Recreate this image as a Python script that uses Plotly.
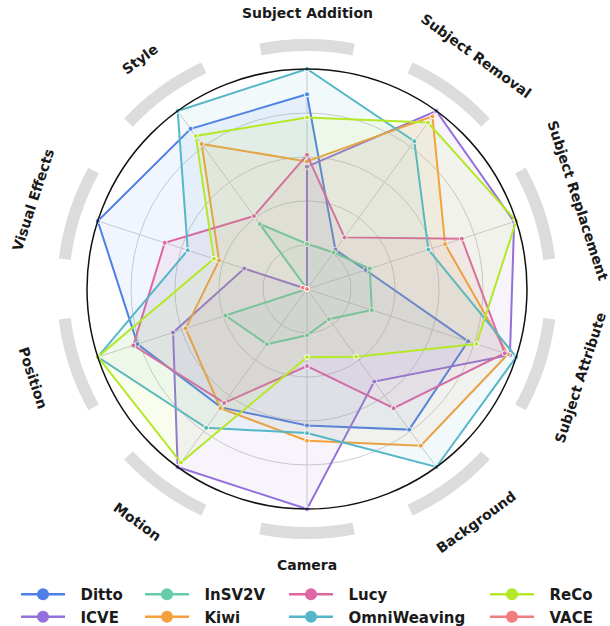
import numpy as np
import plotly.graph_objects as go

categories = ["Subject Addition", "Subject Removal", "Subject Replacement", "Subject Attribute",
              "Background", "Camera", "Motion", "Position", "Visual Effects", "Style"]

ditto       = [0.885, 0.22, 0.28, 0.77, 0.79, 0.62, 0.665, 0.81, 1.00, 0.90]
icve        = [0.556, 1.00, 0.99, 0.97, 0.52, 1.00, 1.00, 0.64, 0.30, 0.00]
insv2v      = [0.205, 0.205, 0.30, 0.31, 0.17, 0.21, 0.31, 0.39, 0.00, 0.365]
kiwi        = [0.58, 0.97, 0.66, 0.96, 0.88, 0.69, 0.67, 0.58, 0.42, 0.815]
lucy        = [0.61, 0.29, 0.74, 0.945, 0.67, 0.35, 0.64, 0.83, 0.68, 0.41]
omniweaving = [1.00, 0.83, 0.58, 1.00, 1.00, 0.655, 0.78, 1.00, 0.57, 1.00]
reco        = [0.78, 0.935, 1.00, 0.81, 0.38, 0.31, 0.975, 1.00, 0.445, 0.86]
vace        = [0.00, 0.00, 0.00, 0.00, 0.00, 0.00, 0.00, 0.00, 0.02, 0.00]

models = ["Ditto", "ICVE", "InSV2V", "Kiwi", "Lucy", "OmniWeaving", "ReCo", "VACE"]
values = [ditto, icve, insv2v, kiwi, lucy, omniweaving, reco, vace]
colors = ["#4E7FE6", "#9370DB", "#66CDAA", "#F5A03C", "#DD66A3", "#55B6C8", "#B4E828", "#F07C7C"]
legend_ids = ["legend", "legend", "legend2", "legend2", "legend3", "legend3", "legend4", "legend4"]

W, H = 610, 626
L, R, T, B = 87, 83, 69, 117
S = 440.0
CX, CY = L + S / 2, T + S / 2


def hex_rgba(h, a):
    h = h.lstrip("#")
    return "rgba(%d,%d,%d,%.3f)" % (int(h[0:2], 16), int(h[2:4], 16), int(h[4:6], 16), a)


def to_paper(px, py):
    return (px - L) / S, (H - B - py) / S


fig = go.Figure()
for name, vals, col in zip(models, values, colors):
    fig.add_trace(go.Scatterpolar(
        r=vals + vals[:1],
        theta=categories + categories[:1],
        mode="lines+markers",
        name=name,
        line=dict(color=col, width=2),
        marker=dict(size=5, color=col, line=dict(color="white", width=1)),
        fill="toself",
        fillcolor=hex_rgba(col, 0.08),
        showlegend=False,
    ))

# legend entries (no data of their own)
for name, col, lg in zip(models, colors, legend_ids):
    fig.add_trace(go.Scatterpolar(
        r=[None], theta=[categories[0]],
        mode="lines+markers",
        name="\u00a0\u00a0" + name,
        line=dict(color=col, width=2.5),
        marker=dict(size=12, color=col),
        legend=lg,
        showlegend=True,
        hoverinfo="skip",
    ))

label_r = [276, 288, 285, 287, 288, 276, 288, 288, 288, 284]

annotations = []
shapes = []
n = len(categories)
for i, cat in enumerate(categories):
    th = 360.0 * i / n
    rad = np.deg2rad(th)
    rl = label_r[i]
    px = CX + rl * np.sin(rad)
    py = CY - rl * np.cos(rad)
    x, y = to_paper(px, py)
    if 90 < th < 270:
        ta = th - 180
    else:
        ta = th if th <= 90 else th - 360
    annotations.append(dict(x=x, y=y, xref="paper", yref="paper", text="<b>%s</b>" % cat,
                            showarrow=False, textangle=ta, xanchor="center", yanchor="middle",
                            font=dict(family="DejaVu Sans", size=14, color="#1a1a1a")))
    # decorative arc
    ra = 244
    angs = np.deg2rad(np.linspace(th - 11, th + 11, 40))
    pts = [to_paper(CX + ra * np.sin(a), CY - ra * np.cos(a)) for a in angs]
    path = "M " + " L ".join("%.5f,%.5f" % p for p in pts)
    shapes.append(dict(type="path", path=path, xref="paper", yref="paper",
                       line=dict(color="#dcdcdc", width=12), layer="below"))

leg_font = dict(family="DejaVu Sans", size=15, color="#1a1a1a", weight="bold")
leg_y = to_paper(0, 578)[1]
leg_common = dict(orientation="v", yanchor="top", xanchor="left", font=leg_font,
                  itemwidth=44, bgcolor="rgba(0,0,0,0)", tracegroupgap=0)
leg_xs = [16, 140, 284, 485]

fig.update_layout(
    width=W, height=H,
    margin=dict(l=L, r=R, t=T, b=B, pad=0, autoexpand=False),
    paper_bgcolor="white",
    plot_bgcolor="white",
    font=dict(family="DejaVu Sans", color="#1a1a1a"),
    polar=dict(
        domain=dict(x=[0, 1], y=[0, 1]),
        bgcolor="white",
        radialaxis=dict(range=[0, 1], tickvals=[0.2, 0.4, 0.6, 0.8, 1.0], showticklabels=False,
                        ticks="", showline=False, gridcolor="#cfcfcf", gridwidth=1),
        angularaxis=dict(direction="clockwise", rotation=90, showticklabels=False, ticks="",
                         showline=True, linecolor="#111111", linewidth=1.5,
                         gridcolor="#cfcfcf", gridwidth=1),
    ),
    annotations=annotations,
    shapes=shapes,
    legend=dict(x=to_paper(leg_xs[0], 0)[0], y=leg_y, **leg_common),
    legend2=dict(x=to_paper(leg_xs[1], 0)[0], y=leg_y, **leg_common),
    legend3=dict(x=to_paper(leg_xs[2], 0)[0], y=leg_y, **leg_common),
    legend4=dict(x=to_paper(leg_xs[3], 0)[0], y=leg_y, **leg_common),
)

fig.write_html("out.html", config={"displayModeBar": False},
               post_script="document.body.style.margin='0px';")
